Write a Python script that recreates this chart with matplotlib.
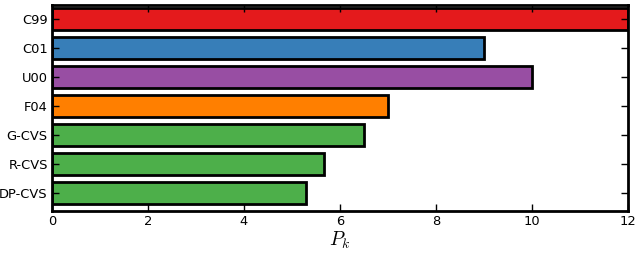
import matplotlib
matplotlib.use("Agg")
import matplotlib.pyplot as plt

plt.rcParams["mathtext.fontset"] = "cm"

categories = ["C99", "C01", "U00", "F04", "G-CVS", "R-CVS", "DP-CVS"]
values = [12.0, 9.0, 10.0, 7.0, 6.5, 5.67, 5.3]
colors = ["#e41a1c", "#377eb8", "#984ea3", "#ff7f00", "#4daf4a", "#4daf4a", "#4daf4a"]
xticks = [0, 2, 4, 6, 8, 10, 12]

fig = plt.figure(figsize=(6.38, 2.54), dpi=100)
ax = fig.add_axes([52/638, 1 - 211/254, 576/638, 206/254])

ypos = list(range(len(categories)))
ax.barh(ypos, values, height=0.75, color=colors, edgecolor="black", linewidth=2)
ax.set_yticks(ypos)
ax.set_yticklabels(categories, fontsize=9.4)
ax.set_ylim(len(categories) - 0.38, -0.48)
ax.set_xlim(0, 12)
ax.set_xticks(xticks)
ax.set_xticklabels([str(t) for t in xticks], fontsize=9.4)
ax.set_xlabel(r"$P_k$", fontsize=14, labelpad=1)
for s in ax.spines.values():
    s.set_linewidth(2)
ax.tick_params(direction="in", top=True, right=True, length=5, width=1, pad=3)

fig.savefig("out.png", dpi=100)
